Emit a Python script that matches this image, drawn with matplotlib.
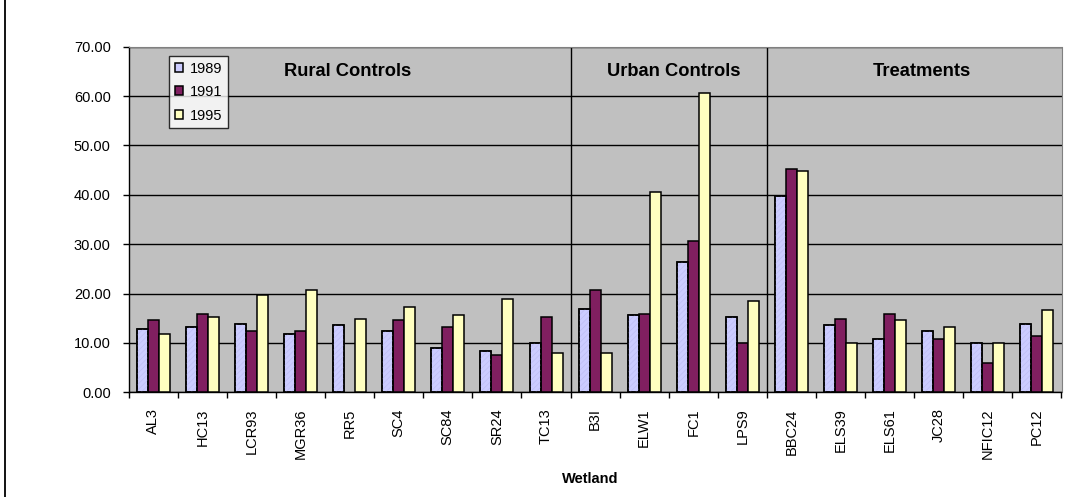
import numpy as np
import matplotlib
matplotlib.use("Agg")
import matplotlib.pyplot as plt
from matplotlib.lines import Line2D

plt.rcParams['font.family'] = ['Liberation Sans', 'DejaVu Sans']
plt.rcParams['hatch.linewidth'] = 0.5

wetlands = ["AL3", "HC13", "LCR93", "MGR36", "RR5", "SC4", "SC84", "SR24", "TC13",
            "B3I", "ELW1", "FC1", "LPS9",
            "BBC24", "ELS39", "ELS61", "JC28", "NFIC12", "PC12"]
years = ["1989", "1991", "1995"]
v1989 = [12.8, 13.2, 13.8, 11.8, 13.6, 12.5, 9.0, 8.3, 10.0,
         16.9, 15.6, 26.3, 15.3,
         39.7, 13.6, 10.7, 12.5, 10.0, 13.8]
v1991 = [14.6, 15.9, 12.4, 12.4, np.nan, 14.6, 13.2, 7.6, 15.3,
         20.8, 15.9, 30.6, 10.0,
         45.2, 14.9, 15.9, 10.7, 5.9, 11.5]
v1995 = [11.8, 15.3, 19.8, 20.8, 14.9, 17.3, 15.6, 18.8, 8.0,
         8.0, 40.6, 60.6, 18.4,
         44.8, 10.0, 14.6, 13.2, 10.0, 16.6]
groups = ["Rural Controls", "Urban Controls", "Treatments"]
group_sizes = [9, 4, 6]

W, H = 1078, 497
fig = plt.figure(figsize=(W / 100, H / 100), dpi=100)
ax = fig.add_axes([128.7 / W, 1 - 392.3 / H, (1061.5 - 128.7) / W, (392.3 - 46.7) / H])
ax.set_facecolor('#C0C0C0')

x = np.arange(len(wetlands))
bw = 0.224
series = [v1989, v1991, v1995]
colors = ['#CCCCFF', '#801F60', '#FFFFC0']
for i, (vals, col, lab) in enumerate(zip(series, colors, years)):
    xs = x + (i - 1) * bw
    ax.bar(xs, vals, width=bw, color=col, edgecolor='black', linewidth=1.1,
           label=lab, zorder=3)
    if i == 0:
        # fine diagonal texture on the 1989 bars
        ax.bar(xs, vals, width=bw, facecolor='none', edgecolor='#BEBEF4',
               linewidth=0, hatch='//////', zorder=3.5)
        ax.bar(xs, vals, width=bw, facecolor='none', edgecolor='black',
               linewidth=1.1, zorder=3.6)

ax.set_xlim(-0.5, len(wetlands) - 0.5)
ax.set_ylim(0, 70)
ax.set_yticks(np.arange(0, 71, 10))
ax.set_yticklabels([f"{v:.2f}" for v in np.arange(0, 71, 10)])
ax.yaxis.grid(True, color='black', linewidth=1.0, zorder=1)
ax.set_axisbelow(True)

ax.set_xticks(x)
ax.set_xticklabels(wetlands, rotation=90, fontsize=10.5)
ax.set_xticks(np.arange(-0.5, len(wetlands)), minor=True)
ax.tick_params(axis='x', which='major', length=0, pad=11.5)
ax.tick_params(axis='x', which='minor', length=4, width=1.0, direction='out')
ax.tick_params(axis='y', length=4, width=1.0, labelsize=10.5, pad=9)

for s in ['top', 'right']:
    ax.spines[s].set_color('#808080')
    ax.spines[s].set_linewidth(0.8)
for s in ['left', 'bottom']:
    ax.spines[s].set_color('black')
    ax.spines[s].set_linewidth(1.0)

# group dividers and group titles
bounds = np.cumsum([0] + group_sizes) - 0.5
for b in bounds[1:-1]:
    ax.axvline(b, color='black', linewidth=1.0, zorder=2)
title_x = [347.7, 674.0, 922.0]
for name, tx in zip(groups, title_x):
    ax.text((tx - 128.7) / (1061.5 - 128.7), (392.3 - 71.7) / 345.6, name,
            transform=ax.transAxes, ha='center', va='center',
            fontsize=13.2, fontweight='bold')

leg = ax.legend(loc='upper left', bbox_to_anchor=((169.3 - 128.7) / 932.8, (392.3 - 56) / 345.6),
                frameon=True, fancybox=False, fontsize=10.5, handlelength=0.55,
                handleheight=0.55, handletextpad=0.5, labelspacing=0.65,
                borderpad=0.38, borderaxespad=0)
leg.get_frame().set_edgecolor('black')
leg.get_frame().set_linewidth(1.0)
leg.get_frame().set_facecolor('white')
leg.set_zorder(5)

fig.text(590 / W, 1 - 479 / H, "Wetland", ha='center', va='center',
         fontsize=10.5, fontweight='bold')

fig.add_artist(Line2D([4.5 / W, 4.5 / W], [0, 1], color='black', linewidth=1.3,
                      transform=fig.transFigure))

fig.savefig("out.png", dpi=100)
